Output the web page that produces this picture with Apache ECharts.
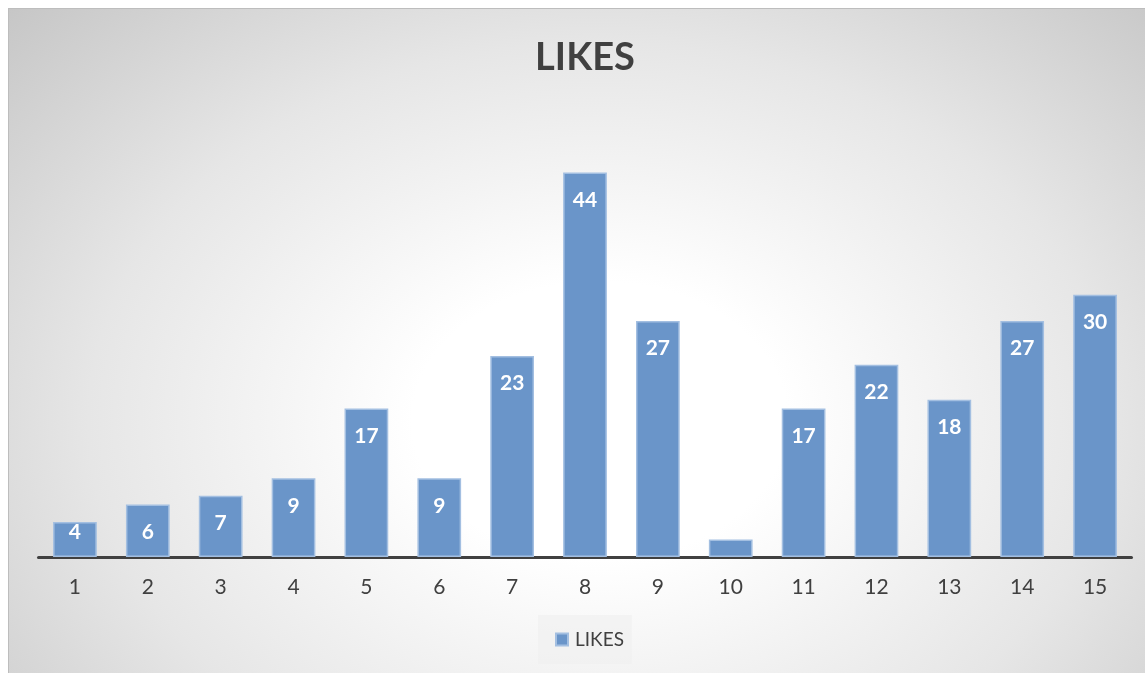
<!DOCTYPE html>
<html>
<head>
<meta charset="utf-8">
<script src="https://cdn.jsdelivr.net/npm/echarts@6/dist/echarts.min.js"></script>
<style>
  html, body { margin: 0; padding: 0; background: #ffffff; width: 1145px; height: 673px; overflow: hidden; }
  #bg { position: absolute; left: 8px; top: 8px; width: 1137px; height: 665px; box-sizing: border-box;
        border-left: 1px solid #bdbdbd; border-top: 1px solid #bdbdbd;
        background: radial-gradient(ellipse 75% 95% at 52% 62%, #ffffff 0%, #ffffff 22%, #e6e6e6 60%, #c2c2c2 100%); }
  #chart { position: absolute; left: 0; top: 0; width: 1145px; height: 673px; }
</style>
</head>
<body>
<div id="bg"></div>
<div id="chart"></div>
<script>
const categories = ['1','2','3','4','5','6','7','8','9','10','11','12','13','14','15'];
const likes = [4, 6, 7, 9, 17, 9, 23, 44, 27, 2, 17, 22, 18, 27, 30];
const hiddenLabelIndex = [9];
const shortBarIndex = [0];

const chart = echarts.init(document.getElementById('chart'), null, { renderer: 'canvas' });
const fontFamily = 'Lato, "Open Sans", "Liberation Sans", sans-serif';

const seriesData = likes.map((v, i) => {
  if (hiddenLabelIndex.includes(i)) return { value: v, label: { show: false } };
  if (shortBarIndex.includes(i)) return { value: v, label: { distance: 0 } };
  return v;
});

chart.setOption({
  backgroundColor: 'transparent',
  animation: false,
  title: {
    text: 'LIKES',
    left: 580,
    top: 34,
    textAlign: 'center',
    textStyle: { fontFamily, fontSize: 38, fontWeight: 'bold', color: '#404040' }
  },
  legend: {
    bottom: 9,
    left: 538,
    itemWidth: 12,
    itemHeight: 12,
    itemGap: 8,
    padding: [15, 8, 15, 17],
    backgroundColor: 'rgba(238,238,238,0.55)',
    icon: 'rect',
    textStyle: { fontFamily, fontSize: 19, color: '#404040', padding: [0, 0, 0, 2] },
    data: ['LIKES']
  },
  grid: { left: 38.5, right: 13.5, top: 120, bottom: 116 },
  xAxis: {
    type: 'category',
    data: categories,
    axisLine: { lineStyle: { color: '#404040', width: 3 } },
    axisTick: { show: false },
    axisLabel: { fontFamily, fontSize: 21, color: '#404040', margin: 20 }
  },
  yAxis: {
    type: 'value',
    min: 0,
    max: 50,
    show: false,
    splitLine: { show: false }
  },
  series: [{
    name: 'LIKES',
    type: 'bar',
    data: seriesData,
    barCategoryGap: '40%',
    itemStyle: { color: '#6a95c9', borderColor: '#a3bfe1', borderWidth: 1.5 },
    label: {
      show: true,
      position: 'insideTop',
      distance: 17,
      fontFamily,
      fontSize: 21,
      fontWeight: 'bold',
      color: '#ffffff'
    }
  }]
});
</script>
</body>
</html>
